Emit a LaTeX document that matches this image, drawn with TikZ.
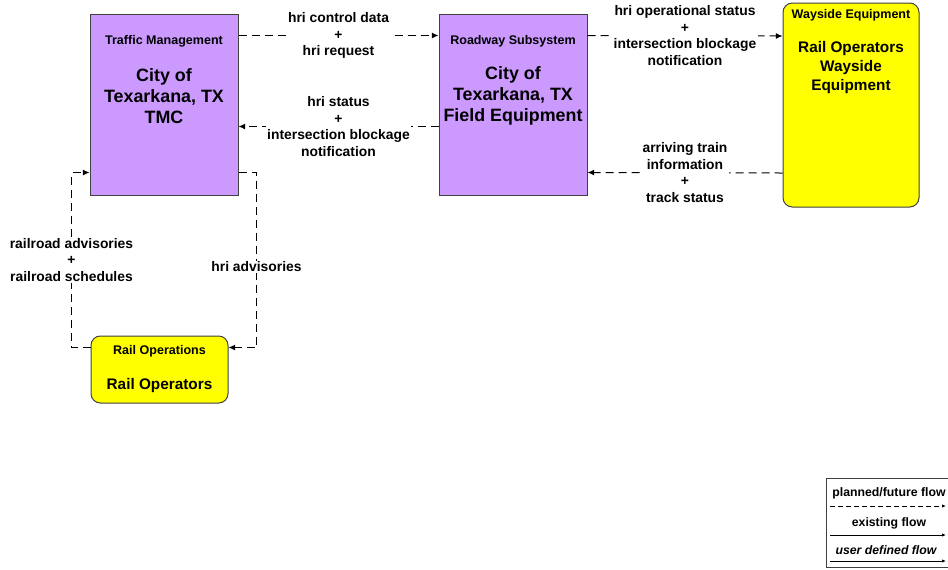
\documentclass[tikz,border=0pt]{standalone}
\usepackage{fontspec}
\setmainfont{Liberation Sans}
\usepackage{xcolor}
\usetikzlibrary{positioning,arrows.meta,calc}
\definecolor{sysviolet}{HTML}{CC99FF}
\definecolor{termyellow}{HTML}{FFFF00}
\tikzset{
  sys/.style  ={rectangle, draw=black!75, line width=0.75pt, fill=sysviolet,
                minimum width=111pt, minimum height=135.75pt},
  term/.style ={rectangle, rounded corners=7pt, draw=black!75, line width=0.75pt,
                fill=termyellow},
  ttl/.style  ={font=\fontsize{9.4}{11}\selectfont\bfseries, inner sep=0pt},
  nm/.style   ={font=\fontsize{13.4}{15.75}\selectfont\bfseries, align=center, inner sep=0pt},
  nmsm/.style ={font=\fontsize{11.5}{13.9}\selectfont\bfseries, align=center, inner sep=0pt},
  flow/.style ={-{Latex[length=5pt,width=4.5pt]}, line width=0.75pt,
                dash pattern=on 6pt off 3.75pt},
  lbl/.style  ={fill=white, align=center, inner sep=1pt,
                font=\fontsize{10.4}{12.4}\selectfont\bfseries},
  lgd/.style  ={font=\fontsize{9.2}{11}\selectfont\bfseries, inner sep=0pt},
}

\begin{document}
\begin{tikzpicture}[x=0.75pt, y=-0.75pt]
  \useasboundingbox (0,0) rectangle (948,569);

  % system boxes
  \node[sys] (tmc) at (164,104.5) {};
  \node[ttl] (tmcttl) at (164,41) {Traffic Management};
  \node[nm] (tmcnm) at (164,96) {City of\\Texarkana, TX\\TMC};

  \node[sys] (fieldeq) at (513,104.5) {};
  \node[ttl] (fieldeqttl) at (513,41) {Roadway Subsystem};
  \node[nm] (fieldeqnm) at (513,96) {City of\\Texarkana, TX\\Field Equipment};

  % terminators
  \node[term, minimum width=102pt, minimum height=153pt] (wayside) at (851,105) {};
  \node[ttl] (waysidettl) at (851,15) {Wayside Equipment};
  \node[nmsm] (waysidenm) at (851,67.5) {Rail Operators\\Wayside\\Equipment};

  \node[term, minimum width=102.75pt, minimum height=50.25pt] (railops) at (159.5,369.5) {};
  \node[ttl] (railopsttl) at (159.5,351) {Rail Operations};
  \node[nmsm] (railopsnm) at (159.5,386) {Rail Operators};

  % flows
  \draw[flow] ($(tmc.north east)+(0,22)$) -- node[lbl] {hri control data\\+\\hri request}
       ($(fieldeq.north west)+(0,22)$);
  \draw[flow] ($(fieldeq.north west)+(0,113)$) -- node[lbl] {hri status\\+\\intersection blockage\\notification}
       ($(tmc.north east)+(0,113)$);
  \draw[flow] ($(fieldeq.north east)+(0,22)$) -- node[lbl] {hri operational status\\+\\intersection blockage\\notification}
       ($(wayside.west)+(0,-69)$);
  \draw[flow] ($(wayside.west)+(0,68)$) -- node[lbl] {arriving train\\information\\+\\track status}
       ($(fieldeq.north east)+(0,159)$);
  \draw[flow] ($(railops.north west)+(0,12)$) -- ++(-19,0)
       |- node[lbl, pos=0.25] {railroad advisories\\+\\railroad schedules}
       ($(tmc.north west)+(0,159)$);
  \draw[flow] ($(tmc.north east)+(0,159)$) -- ++(18,0)
       |- node[lbl, pos=0.27] {hri advisories}
       ($(railops.north east)+(0,12)$);

  % legend
  \node[draw=black!75, line width=0.75pt, anchor=north west, minimum width=93pt,
        minimum height=66.75pt, inner sep=0pt] (legend) at (826,478) {};
  \node[lgd] (lgdplan) at (889,493) {planned/future flow};
  \node[lgd] (lgdexist) at (889,523) {existing flow};
  \node[lgd, font=\fontsize{9.2}{11}\selectfont\bfseries\itshape] (lgduser) at (886,550) {user defined flow};
  \draw[-{Latex[length=3pt,width=2.5pt]}, line width=0.6pt, dash pattern=on 3.5pt off 2.5pt]
       ($(legend.north west)+(4,28)$) -- ++(116,0);
  \draw[-{Latex[length=3pt,width=2.5pt]}, line width=0.75pt]
       ($(legend.north west)+(4,57)$) -- ++(116,0);
  \draw[-{Latex[length=3pt,width=2.5pt]}, line width=0.75pt]
       ($(legend.north west)+(4,83)$) -- ++(116,0);
\end{tikzpicture}
\end{document}
